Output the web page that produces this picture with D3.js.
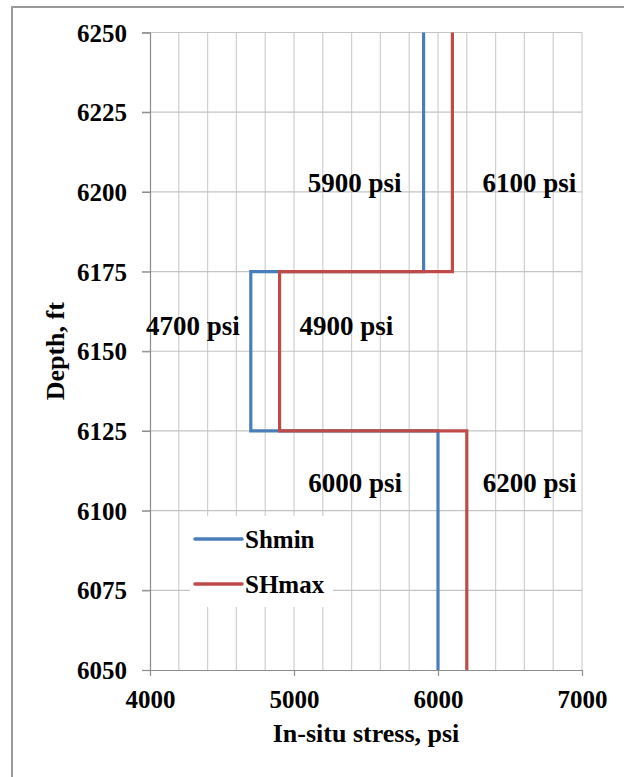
<!DOCTYPE html>
<html>
<head>
<meta charset="utf-8">
<script src="https://cdn.jsdelivr.net/npm/d3@7"></script>
<style>
  html, body { margin: 0; padding: 0; background: #fff; }
  svg { display: block; }
  text { font-family: "Liberation Serif", "Times New Roman", serif; font-weight: bold; fill: #000; }
</style>
</head>
<body>
<svg id="chart" width="624" height="777"></svg>
<script>
// Stress profile: step changes at layer boundaries
const depthSteps = [6250, 6175, 6175, 6125, 6125, 6050];
const shminValues = [5900, 5900, 4700, 4700, 6000, 6000];
const shmaxValues = [6100, 6100, 4900, 4900, 6200, 6200];

const seriesNames = ["Shmin", "SHmax"];
const seriesColors = ["#4A7EBB", "#BE4B48"];

const xTicks = [4000, 5000, 6000, 7000];
const yTicks = [6050, 6075, 6100, 6125, 6150, 6175, 6200, 6225, 6250];

// Value annotations: [stress, depth, label]
const annotStress = [5900, 6100, 4700, 4900, 6000, 6200];
const annotDepth = [6200, 6200, 6155, 6155, 6106, 6106];
const annotLabels = ["5900 psi", "6100 psi", "4700 psi", "4900 psi", "6000 psi", "6200 psi"];

const svg = d3.select("#chart");

// outer frame (left and top edges)
svg.append("path")
  .attr("d", "M12,777 V7 H624")
  .attr("fill", "none")
  .attr("stroke", "#9a9a9a")
  .attr("stroke-width", 2);

const x = d3.scaleLinear().domain([4000, 7000]).range([150, 582]);
const y = d3.scaleLinear().domain([6050, 6250]).range([670, 32.5]);

// grid
const grid = svg.append("g");
grid.selectAll("line.v")
  .data(d3.range(4200, 7001, 200))
  .join("line")
  .attr("x1", d => x(d)).attr("x2", d => x(d))
  .attr("y1", y(6250)).attr("y2", y(6050))
  .attr("stroke", "#cfcfcf").attr("stroke-width", 1.2);
grid.selectAll("line.h")
  .data(yTicks.filter(d => d !== 6050))
  .join("line")
  .attr("x1", x(4000) - 8).attr("x2", x(7000))
  .attr("y1", d => y(d)).attr("y2", d => y(d))
  .attr("stroke", "#c4c4c4").attr("stroke-width", 1.2);

// axes
const yAxis = d3.axisLeft(y).tickValues(yTicks).tickSize(8).tickFormat(d3.format("d"));
const gy = svg.append("g").attr("transform", `translate(${x(4000)},0)`).call(yAxis);
gy.select(".domain").attr("stroke", "#8c8c8c").attr("stroke-width", 1.2);
gy.selectAll(".tick line").attr("stroke", "#8c8c8c").attr("stroke-width", 1.2);
gy.selectAll(".tick text")
  .attr("x", -23).attr("dy", "0.34em")
  .style("font-family", "'Liberation Serif', serif")
  .style("font-weight", "bold").style("font-size", "25px").attr("fill", "#000");

const xAxis = d3.axisBottom(x).tickValues(xTicks).tickSize(6).tickSizeOuter(0).tickFormat(d3.format("d"));
const gx = svg.append("g").attr("transform", `translate(0,${y(6050)})`).call(xAxis);
gx.select(".domain").attr("stroke", "#8c8c8c").attr("stroke-width", 1.2);
gx.selectAll(".tick line").attr("stroke", "#8c8c8c").attr("stroke-width", 1.2);
gx.selectAll(".tick text")
  .attr("y", 0).attr("dy", "38px")
  .style("font-family", "'Liberation Serif', serif")
  .style("font-weight", "bold").style("font-size", "25px").attr("fill", "#000");

// axis titles
svg.append("text")
  .attr("x", (x(4000) + x(7000)) / 2).attr("y", 742)
  .attr("text-anchor", "middle").style("font-size", "26px")
  .text("In-situ stress, psi");
svg.append("text")
  .attr("transform", `translate(64,${(y(6050) + y(6250)) / 2}) rotate(-90)`)
  .attr("text-anchor", "middle").style("font-size", "26px")
  .text("Depth, ft");

// legend box (white, sits over the grid)
const legend = svg.append("g");
legend.append("rect")
  .attr("x", 190).attr("y", 516).attr("width", 143).attr("height", 91)
  .attr("fill", "#fff");
const legendY = [539, 584];
seriesNames.forEach((name, i) => {
  legend.append("line")
    .attr("x1", 195).attr("x2", 242)
    .attr("y1", legendY[i]).attr("y2", legendY[i])
    .attr("stroke", seriesColors[i]).attr("stroke-width", 3.5)
    .attr("stroke-linecap", "round");
  legend.append("text")
    .attr("x", 245).attr("y", legendY[i]).attr("dy", "0.35em")
    .style("font-size", "25px")
    .text(name);
});

// stress profiles
const line = d3.line().x(d => x(d[0])).y(d => y(d[1]));
[shminValues, shmaxValues].forEach((vals, i) => {
  svg.append("path")
    .datum(vals.map((v, k) => [v, depthSteps[k]]))
    .attr("d", line)
    .attr("fill", "none")
    .attr("stroke", seriesColors[i])
    .attr("stroke-width", 3.2)
    .attr("stroke-linejoin", "miter");
});

// value labels: Shmin labels sit left of the line, SHmax labels right of it
const labelAnchor = ["end", "start", "end", "start", "end", "start"];
const labelShift = [-22, 30, -11, 20, -36, 16];
svg.selectAll("text.annot")
  .data(annotLabels)
  .join("text")
  .attr("class", "annot")
  .attr("x", (d, i) => x(annotStress[i]) + labelShift[i])
  .attr("y", (d, i) => y(annotDepth[i]))
  .attr("text-anchor", (d, i) => labelAnchor[i])
  .style("font-size", "27px")
  .text(d => d);
</script>
</body>
</html>
